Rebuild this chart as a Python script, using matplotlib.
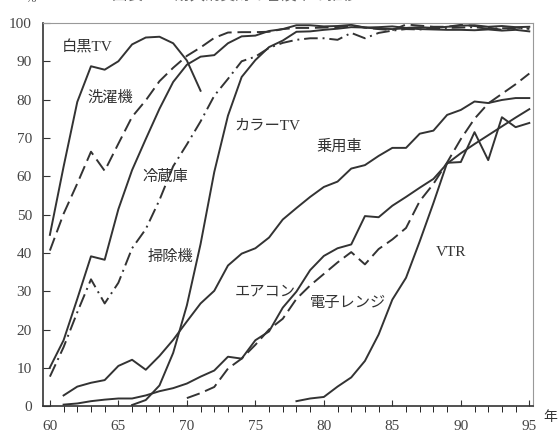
import numpy as np
import matplotlib
matplotlib.use('Agg')
import matplotlib.pyplot as plt

plt.rcParams['font.family'] = ['Liberation Serif', 'Noto Sans CJK JP']

# 普及率 (%) by year (19xx)
bw_years = list(range(60, 72))
bw_tv = [44.7, 62.5, 79.4, 88.7, 87.8, 90.0, 94.4, 96.2, 96.4, 94.7, 90.2, 82.3]

washer_years = list(range(60, 96))
washer = [40.6, 50.2, 58.1, 66.4, 61.4, 68.5, 75.5, 79.8, 84.8, 88.3, 91.4, 93.6,
          96.1, 97.5, 97.6, 97.6, 97.7, 98.4, 98.7, 98.7, 98.8, 98.9, 99.3, 98.8,
          98.4, 98.1, 99.6, 99.3, 99.0, 99.0, 99.5, 99.2, 98.8, 98.2, 98.8, 98.5]

fridge_years = list(range(60, 96))
fridge = [10.1, 17.2, 28.0, 39.1, 38.2, 51.4, 61.6, 69.7, 77.6, 84.6, 89.1, 91.2,
          91.6, 94.7, 96.5, 96.7, 97.9, 98.4, 99.4, 99.4, 99.1, 99.2, 99.5, 98.8,
          98.5, 98.4, 98.6, 98.4, 98.3, 98.2, 98.2, 98.1, 98.3, 98.0, 98.2, 97.8]

vacuum_years = list(range(60, 96))
vacuum = [7.7, 15.4, 24.5, 33.1, 26.8, 32.2, 41.2, 46.2, 53.8, 62.6, 68.3, 74.3,
          81.0, 85.4, 90.0, 91.2, 93.5, 94.8, 95.6, 96.0, 96.0, 95.6, 97.4, 96.0,
          97.4, 98.0, 98.4, 98.3, 98.6, 98.7, 98.8, 98.9, 98.5, 98.6, 98.7, 98.5]

color_years = list(range(66, 96))
color_tv = [0.3, 1.6, 5.4, 13.9, 26.3, 42.3, 61.1, 75.8, 85.9, 90.3, 93.7, 95.4,
            97.7, 97.8, 98.2, 98.5, 98.9, 98.8, 98.9, 99.1, 98.7, 98.9, 98.7, 99.0,
            99.3, 99.4, 99.0, 99.2, 98.9, 99.0]

car_years = list(range(61, 96))
car = [2.8, 5.1, 6.1, 6.8, 10.5, 12.1, 9.5, 13.1, 17.3, 22.1, 26.8, 30.1, 36.7,
       39.8, 41.2, 44.0, 48.7, 51.7, 54.6, 57.2, 58.6, 62.0, 62.9, 65.3, 67.4,
       67.4, 71.1, 71.9, 76.0, 77.3, 79.5, 79.1, 79.9, 80.4, 80.4]

aircon_years = list(range(61, 96))
aircon = [0.4, 0.7, 1.3, 1.7, 2.0, 2.0, 2.8, 3.9, 4.7, 5.9, 7.7, 9.3, 12.9, 12.4,
          17.2, 19.5, 25.7, 29.9, 35.5, 39.2, 41.2, 42.2, 49.6, 49.3, 52.3, 54.6,
          57.0, 59.3, 63.3, 66.0, 68.4, 70.7, 73.0, 75.3, 77.5]

micro_years = list(range(70, 96))
microwave = [2.1, 3.4, 5.0, 9.8, 12.4, 16.0, 20.0, 22.8, 28.0, 31.5, 34.5, 37.5,
             40.2, 37.0, 41.0, 43.5, 46.5, 53.5, 58.0, 63.6, 69.7, 75.0, 79.0,
             81.5, 84.0, 86.8]

vtr_years = list(range(78, 96))
vtr = [1.3, 2.0, 2.4, 5.1, 7.5, 11.8, 18.7, 27.8, 33.5, 43.0, 53.0, 63.5, 63.7,
       71.5, 64.2, 75.4, 72.8, 73.9]

c = '#333333'
lw = 1.4

fig = plt.figure(figsize=(5.59, 4.33), dpi=100)
ax = fig.add_axes([0.077, 0.062, 0.876, 0.885])

ax.plot(bw_years, bw_tv, color=c, lw=lw)
ax.plot(washer_years, washer, color=c, lw=lw, linestyle=(0, (7, 3)))
ax.plot(fridge_years, fridge, color=c, lw=lw)
ax.plot(vacuum_years, vacuum, color=c, lw=lw, linestyle=(0, (7, 2.5, 1, 2.5)))
ax.plot(color_years, color_tv, color=c, lw=lw)
ax.plot(car_years, car, color=c, lw=lw)
ax.plot(aircon_years, aircon, color=c, lw=lw)
ax.plot(micro_years, microwave, color=c, lw=lw, linestyle=(0, (7, 3)))
ax.plot(vtr_years, vtr, color=c, lw=lw)

ax.set_xlim(59.5, 95.25)
ax.set_ylim(0, 100)
ax.set_xticks(range(60, 96, 5))
ax.set_xticks(range(60, 96), minor=True)
ax.set_yticks(range(0, 101, 10))
ax.tick_params(axis='both', direction='in', labelsize=11, labelcolor='#444444',
               color='#333333')
ax.tick_params(axis='x', which='major', length=4, pad=10)
ax.tick_params(axis='x', which='minor', length=4)
ax.tick_params(axis='y', length=5, pad=8)

for s in ['left', 'bottom']:
    ax.spines[s].set_color('#333333')
    ax.spines[s].set_linewidth(1.2)
for s in ['top', 'right']:
    ax.spines[s].set_color('#999999')
    ax.spines[s].set_linewidth(0.8)

labels = [
    ('白黒TV', 62.7, 93.5),
    ('洗濯機', 64.4, 80.4),
    ('冷蔵庫', 68.4, 59.8),
    ('掃除機', 68.8, 38.9),
    ('カラーTV', 75.9, 73.1),
    ('乗用車', 81.1, 67.6),
    ('エアコン', 75.7, 29.8),
    ('電子レンジ', 81.8, 26.9),
    ('VTR', 89.3, 40.2),
]
for txt, x, y in labels:
    ax.text(x, y, txt, fontsize=11, color='#333333', ha='center', va='center')

fig.text(0.984, 0.035, '年', fontsize=10, color='#333333', ha='center', va='center')
fig.text(0.055, 1.002, '%', fontsize=9, color='#555555', ha='center', va='center')
fig.text(0.42, 1.012, '図表 1-1  耐久消費財の普及率の推移', fontsize=11,
         color='#666666', ha='center', va='center')

fig.savefig('out.png', dpi=100)
